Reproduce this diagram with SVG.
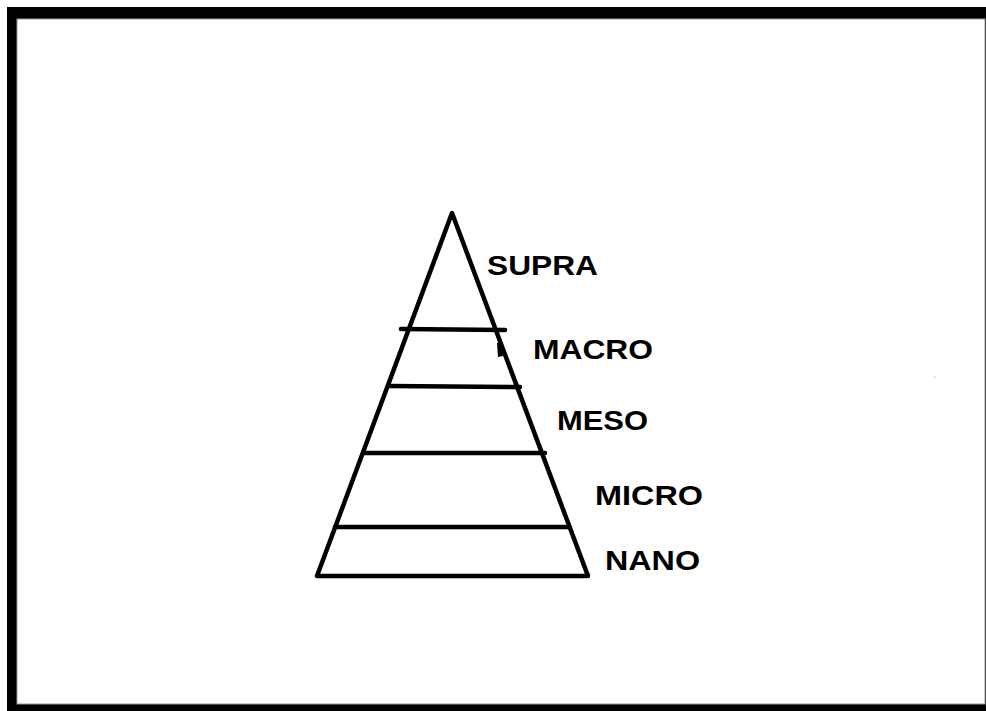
<svg xmlns="http://www.w3.org/2000/svg" width="986" height="711" viewBox="0 0 986 711">
<style>
.l{stroke:#000;stroke-width:4.5;fill:none;stroke-linecap:round;stroke-linejoin:round}
.t{font-family:"Liberation Sans",Arial,sans-serif;font-weight:bold;font-size:28px;fill:#000}
</style>
<rect x="0" y="0" width="986" height="711" fill="#fff"/>
<rect x="7" y="7" width="990" height="710" fill="#000"/>
<rect x="17" y="19" width="968" height="685" fill="#fff" stroke="#999" stroke-width="1"/>
<g id="connectors">
<path class="l" d="M452,213 L317,576 L588,576 Z"/>
<line class="l" x1="401" y1="329" x2="505" y2="330"/>
<line class="l" x1="389" y1="386" x2="520" y2="387"/>
<line class="l" x1="364" y1="453" x2="545" y2="453"/>
<line class="l" x1="335" y1="527" x2="569" y2="527"/>
<path d="M497,343 L501,342 L503,356 L498,357 Z" fill="#000"/>
<circle cx="935" cy="377" r="0.8" fill="#bbb"/>
</g>
<g id="supra"><text class="t" x="487" y="275" textLength="111" lengthAdjust="spacingAndGlyphs">SUPRA</text></g>
<g id="macro"><text class="t" x="533" y="359" textLength="120" lengthAdjust="spacingAndGlyphs">MACRO</text></g>
<g id="meso"><text class="t" x="557" y="430" textLength="91" lengthAdjust="spacingAndGlyphs">MESO</text></g>
<g id="micro"><text class="t" x="595" y="505" textLength="108" lengthAdjust="spacingAndGlyphs">MICRO</text></g>
<g id="nano"><text class="t" x="605" y="570" textLength="95" lengthAdjust="spacingAndGlyphs">NANO</text></g>
</svg>
